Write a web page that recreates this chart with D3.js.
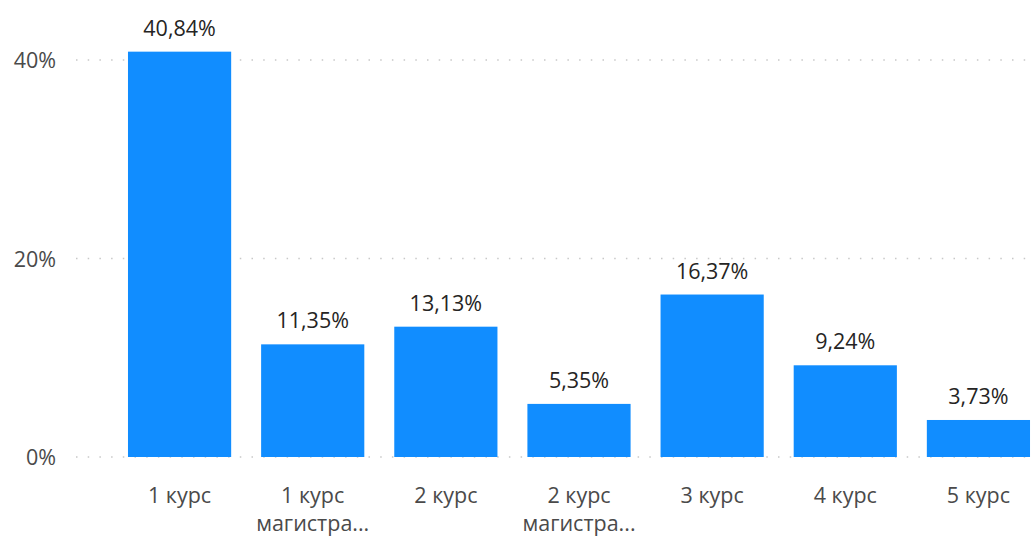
<!DOCTYPE html>
<html><head><meta charset="utf-8">
<script src="https://cdn.jsdelivr.net/npm/d3@7"></script>
<style>body{margin:0;background:#fff;}svg{display:block;}</style>
</head><body>
<svg id="c" width="1033" height="538"></svg>
<script>
const categories = ["1 курс", "1 курс магистратура", "2 курс", "2 курс магистратура", "3 курс", "4 курс", "5 курс"];
const labelLines = [["1 курс"], ["1 курс", "магистра..."], ["2 курс"], ["2 курс", "магистра..."], ["3 курс"], ["4 курс"], ["5 курс"]];
const values = [40.84, 11.35, 13.13, 5.35, 16.37, 9.24, 3.73];
const yTicks = [0, 20, 40];

const svg = d3.select("#c");
const font = "'Segoe UI', 'Open Sans', 'Noto Sans', sans-serif";
const x = d3.scaleBand().domain(categories).range([113, 1045]).paddingInner(0.225).paddingOuter(0.1125);
const y = d3.scaleLinear().domain([0, 40]).range([457, 60]);

// grid
svg.append("g").selectAll("line").data(yTicks).join("line")
  .attr("x1", 76).attr("x2", 1033)
  .attr("y1", d => y(d)).attr("y2", d => y(d))
  .attr("stroke", "#c8c8c8").attr("stroke-width", 1.5)
  .attr("stroke-dasharray", "1.5,10.2");

// y axis
const yAxis = d3.axisLeft(y).tickValues(yTicks).tickFormat(d => d + "%").tickSize(0).tickPadding(0);
const gy = svg.append("g").attr("transform", "translate(56,0)").call(yAxis);
gy.select(".domain").remove();
gy.selectAll("text").attr("font-family", font).attr("font-size", 21.5).attr("fill", "#4a4a4a").attr("dy", "0.35em");

// bars
svg.append("g").selectAll("rect").data(values).join("rect")
  .attr("x", (d, i) => x(categories[i]))
  .attr("width", x.bandwidth())
  .attr("y", d => y(d))
  .attr("height", d => y(0) - y(d))
  .attr("fill", "#118dff");

// data labels
svg.append("g").selectAll("text").data(values).join("text")
  .attr("x", (d, i) => x(categories[i]) + x.bandwidth() / 2)
  .attr("y", d => y(d) - 16)
  .attr("text-anchor", "middle")
  .attr("font-family", font).attr("font-size", 21.5).attr("fill", "#252423")
  .text(d => d.toFixed(2).replace(".", ",") + "%");

// x axis labels
const xAxis = d3.axisBottom(x).tickSize(0).tickFormat("");
const gx = svg.append("g").attr("transform", "translate(0,457)").call(xAxis);
gx.select(".domain").remove();
gx.selectAll(".tick").each(function(d, i) {
  const t = d3.select(this).append("text")
    .attr("text-anchor", "middle")
    .attr("font-family", font).attr("font-size", 21.5).attr("fill", "#4a4a4a");
  labelLines[i].forEach((ln, j) => {
    t.append("tspan").attr("x", 0).attr("y", 46 + j * 28).text(ln);
  });
});
</script>
</body></html>
